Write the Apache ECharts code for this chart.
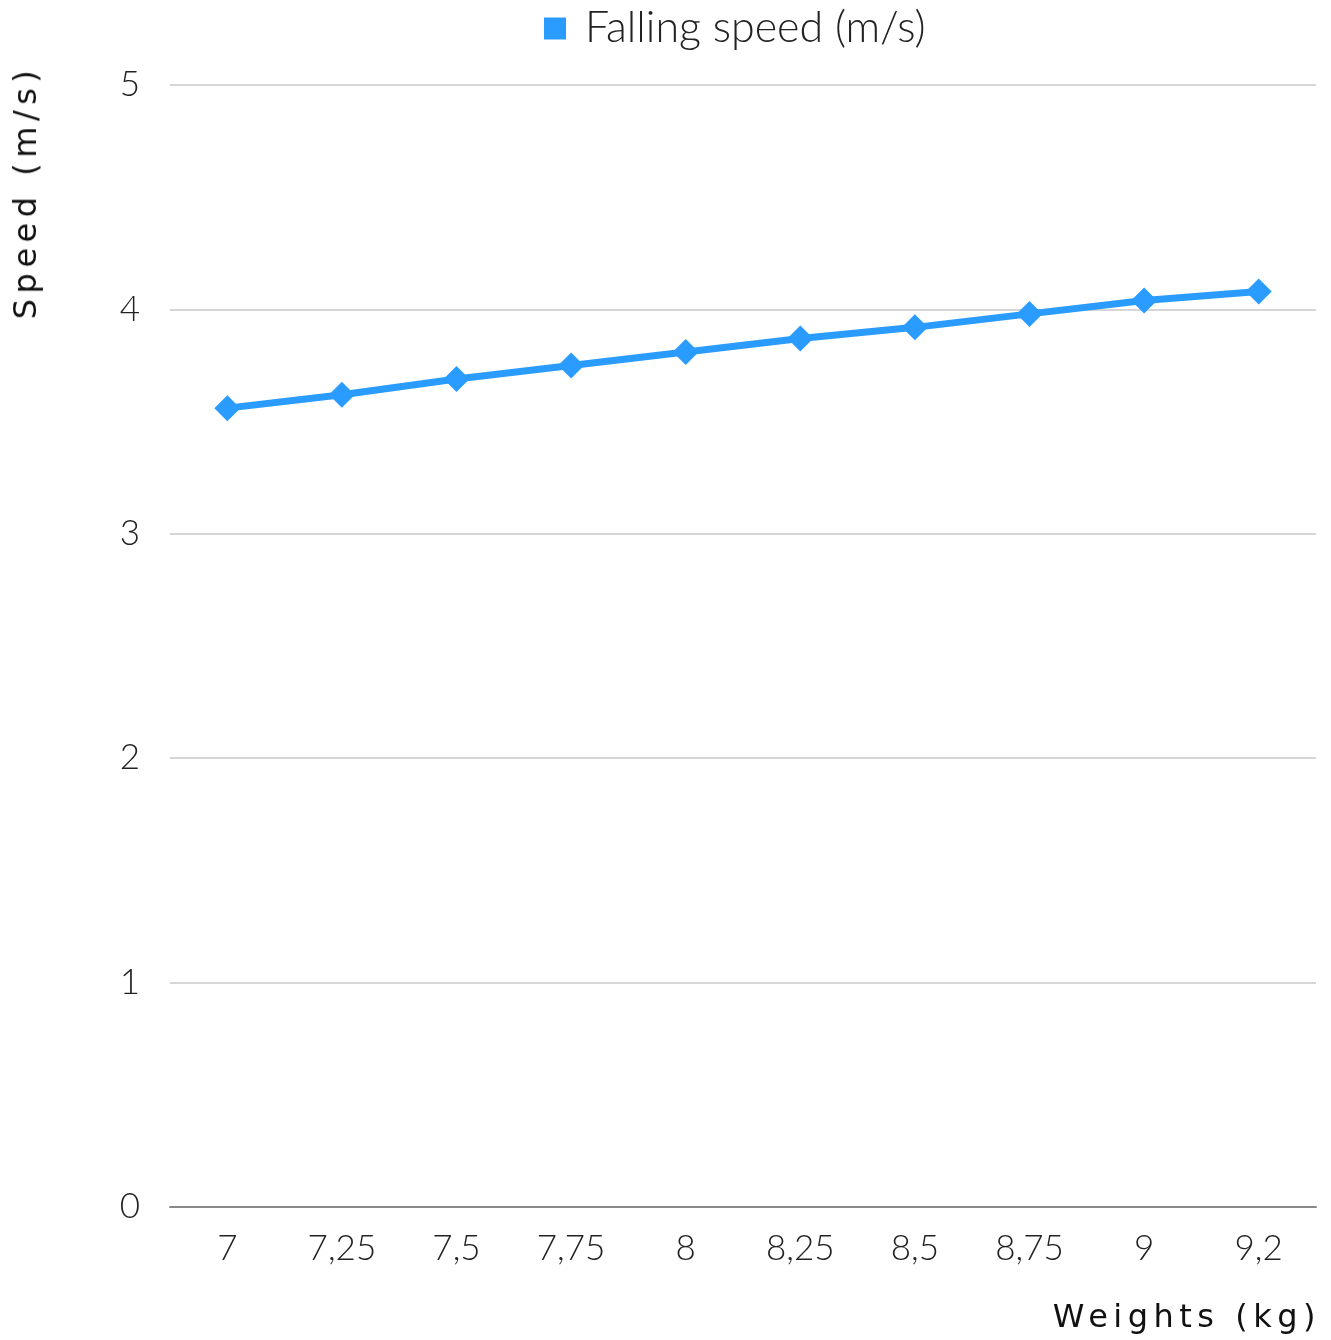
<!DOCTYPE html>
<html>
<head>
<meta charset="utf-8">
<title>Falling speed by weight</title>
<script src="https://cdn.jsdelivr.net/npm/echarts@6/dist/echarts.min.js"></script>
<style>
  html, body { margin: 0; padding: 0; background: #ffffff; }
  #wrap { position: relative; width: 1331px; height: 1340px; }
  #chart { width: 1331px; height: 1340px; }
  .axis-title {
    position: absolute;
    font-family: "DejaVu Sans", sans-serif;
    font-size: 32px;
    font-weight: normal;
    color: #111;
    letter-spacing: 5.5px;
    white-space: nowrap;
    line-height: 1;
  }
  #yTitle {
    left: 25px;
    top: 192px;
    transform: translate(-50%, -50%) rotate(-90deg);
  }
  #xTitle {
    right: 10px;
    top: 1300px;
  }
</style>
</head>
<body>
<div id="wrap">
  <div id="chart"></div>
  <div id="yTitle" class="axis-title">Speed (m/s)</div>
  <div id="xTitle" class="axis-title">Weights (kg)</div>
</div>
<script>
// Weights (kg) on the x axis, as printed with decimal commas
const weights = ['7', '7,25', '7,5', '7,75', '8', '8,25', '8,5', '8,75', '9', '9,2'];
// Measured falling speed (m/s) for each weight
const fallingSpeed = [3.56, 3.62, 3.69, 3.75, 3.81, 3.87, 3.92, 3.98, 4.04, 4.08];
const seriesName = 'Falling speed (m/s)';
const yTicks = [0, 1, 2, 3, 4, 5];

const FONT = 'Lato, "Open Sans", sans-serif';
const BLUE = '#2a9cff';

const chart = echarts.init(document.getElementById('chart'), null, { renderer: 'canvas' });

chart.setOption({
  backgroundColor: '#ffffff',
  animation: false,
  legend: {
    top: 2,
    left: 539,
    itemWidth: 22,
    itemHeight: 22,
    itemGap: 18,
    icon: 'rect',
    textStyle: {
      fontFamily: FONT, fontSize: 43, fontWeight: 300, color: '#222',
      padding: [0, 0, 0, 14]
    },
    data: [seriesName]
  },
  grid: { left: 170, right: 15, top: 85, bottom: 133, containLabel: false },
  xAxis: {
    type: 'category',
    data: weights,
    boundaryGap: true,
    axisLine: { show: true, lineStyle: { color: '#888', width: 2 } },
    axisTick: { show: false },
    axisLabel: { margin: 24, fontFamily: FONT, fontSize: 35, fontWeight: 300, color: '#222' },
    splitLine: { show: false }
  },
  yAxis: {
    type: 'value',
    min: yTicks[0],
    max: yTicks[yTicks.length - 1],
    interval: 1,
    axisLine: { show: false },
    axisTick: { show: false },
    axisLabel: { margin: 30, fontFamily: FONT, fontSize: 35, fontWeight: 300, color: '#222' },
    splitLine: { show: true, lineStyle: { color: '#c8c8c8', width: 1.5 } }
  },
  series: [{
    name: seriesName,
    type: 'line',
    data: fallingSpeed,
    symbol: 'diamond',
    symbolSize: 26,
    itemStyle: { color: BLUE },
    lineStyle: { color: BLUE, width: 7 }
  }]
});
</script>
</body>
</html>
